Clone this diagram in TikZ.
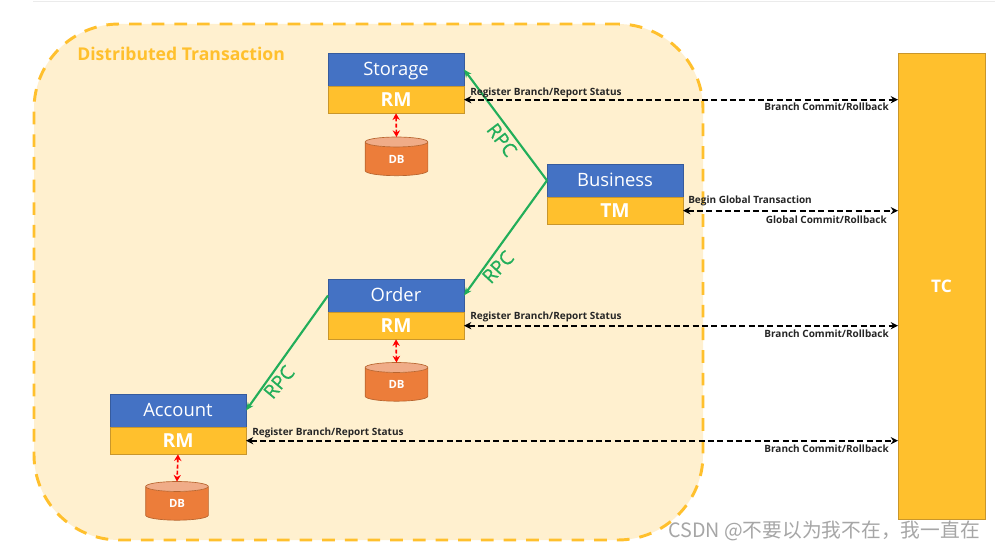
\documentclass[tikz,border=0pt]{standalone}
\usepackage{fontspec}
\setmainfont{Open Sans}
\newfontfamily\cjkwm{Noto Sans CJK SC}
\newfontfamily\rpcfont[FakeBold=0.5]{Open Sans}
\usetikzlibrary{shapes.geometric,arrows.meta}
\definecolor{cblue}{HTML}{4472C4}
\definecolor{cgold}{HTML}{FFC02D}
\definecolor{cgoldb}{HTML}{C9962B}
\definecolor{cbg}{HTML}{FFF0CF}
\definecolor{cgreen}{HTML}{22AE5A}
\definecolor{corange}{HTML}{EC7D3A}
\definecolor{corangeb}{HTML}{B8652F}
\definecolor{corangel}{HTML}{F0AC88}
\definecolor{ctext}{HTML}{262626}
\tikzset{
  x=0.75pt,y=-0.75pt,
  boxbase/.style={rectangle,anchor=north west,inner sep=0pt,outer sep=0pt,minimum width=102pt,text=white},
  bluebox/.style={boxbase,fill=cblue,draw=cblue!80!black,line width=0.5pt,minimum height=24.75pt,text height=11.5pt,text depth=2.5pt,font=\fontsize{13.8}{15}\selectfont},
  goldbox/.style={boxbase,fill=cgold,draw=cgoldb,line width=0.5pt,minimum height=20.5pt,font=\fontsize{14.5}{15}\selectfont\bfseries},
  dbnode/.style={cylinder,shape border rotate=90,aspect=0.62,cylinder uses custom fill,cylinder body fill=corange,cylinder end fill=corangel,draw=corangeb,line width=0.5pt,minimum width=47pt,minimum height=29pt,inner sep=0pt,outer sep=0pt,text=white,font=\fontsize{8.5}{9}\selectfont\bfseries},
  rpcarrow/.style={draw=cgreen,line width=1.6pt,-{Stealth[length=6pt,width=5pt]}},
  rpclabel/.style={text=cgreen,font=\fontsize{14.5}{14}\rpcfont,inner sep=0pt},
  dbarrow/.style={draw=red,line width=1.2pt,dash pattern=on 3pt off 1.6pt,{Stealth[length=5pt,width=5.5pt]}-{Stealth[length=5pt,width=5.5pt]}},
  tcarrow/.style={draw=black,line width=1.3pt,dash pattern=on 4.5pt off 2.5pt,{Stealth[length=5.5pt,width=5.5pt]}-{Stealth[length=5.5pt,width=5.5pt]}},
  small/.style={text=ctext,font=\fontsize{7.5}{7}\selectfont\bfseries,inner sep=0pt},
}
\begin{document}
\begin{tikzpicture}
\useasboundingbox (0,0) rectangle (995,549);
\fill[white] (0,0) rectangle (995,549);
\draw[draw=black!8,line width=0.75pt] (33,2) -- (995,2);
% region
\node[rectangle,anchor=north west,minimum width=501.75pt,minimum height=387pt,inner sep=0pt,outer sep=0pt,fill=cbg,draw=cgold,line width=2.2pt,rounded corners=64pt,dash pattern=on 9.5pt off 7.5pt] (region) at (34,24) {};
\node[anchor=west,inner sep=0pt,text=cgold,font=\fontsize{13.2}{14}\selectfont\bfseries] (title) at (77,54) {Distributed Transaction};
% TC
\node[rectangle,anchor=north west,inner sep=0pt,outer sep=0pt,minimum width=65.25pt,minimum height=349.5pt,fill=cgold,draw=cgoldb,line width=0.5pt,text=white,font=\fontsize{13}{13}\selectfont\bfseries] (tc) at (898,53) {TC};
% boxes
\node[bluebox] (storage) at (328,53) {Storage};
\node[goldbox] (rm1) at (328,86) {RM};
\node[bluebox] (business) at (547,164) {Business};
\node[goldbox] (tm) at (547,197) {TM};
\node[bluebox] (order) at (328,279) {Order};
\node[goldbox] (rm2) at (328,312) {RM};
\node[bluebox] (account) at (110,394) {Account};
\node[goldbox] (rm3) at (110,427) {RM};
% DBs
\node[dbnode] (db1) at (396.5,159) {DB};
\node[dbnode] (db2) at (396.5,384.5) {DB};
\node[dbnode] (db3) at (177,503.5) {DB};
% RPC
\draw[rpcarrow] (business.west) -- (storage.east);
\draw[rpcarrow] (business.west) -- (order.east);
\draw[rpcarrow] (order.west) -- (account.east);
\node[rpclabel,rotate=-53] (rpc1) at (502,140) {RPC};
\node[rpclabel,rotate=47] (rpc2) at (498,267) {RPC};
\node[rpclabel,rotate=50] (rpc3) at (279,382) {RPC};
% DB arrows
\draw[dbarrow] (rm1.south) -- (db1.top);
\draw[dbarrow] (rm2.south) -- (db2.top);
\draw[dbarrow] (rm3.south) -- (db3.top);
% TC arrows
\draw[tcarrow] (rm1.east) -- (rm1.east -| tc.west);
\draw[tcarrow] (tm.east) -- (tm.east -| tc.west);
\draw[tcarrow] (rm2.east) -- (rm2.east -| tc.west);
\draw[tcarrow] (rm3.east) -- (rm3.east -| tc.west);
% small labels
\node[small,anchor=west] (l1) at (470,92.5) {Register Branch/Report Status};
\node[small,anchor=east] (l2) at (889,106.5) {Branch Commit/Rollback};
\node[small,anchor=west] (l3) at (688,200.5) {Begin Global Transaction};
\node[small,anchor=east] (l4) at (887,219.5) {Global Commit/Rollback};
\node[small,anchor=west] (l5) at (470,316.5) {Register Branch/Report Status};
\node[small,anchor=east] (l6) at (889,333.5) {Branch Commit/Rollback};
\node[small,anchor=west] (l7) at (252,433) {Register Branch/Report Status};
\node[small,anchor=east] (l8) at (889,448.5) {Branch Commit/Rollback};
% watermark
\node[anchor=east,inner sep=0pt,text=black!35,font=\fontsize{14.8}{15}\cjkwm] (wm) at (980,531) {CSDN @不要以为我不在，我一直在};
\end{tikzpicture}
\end{document}
